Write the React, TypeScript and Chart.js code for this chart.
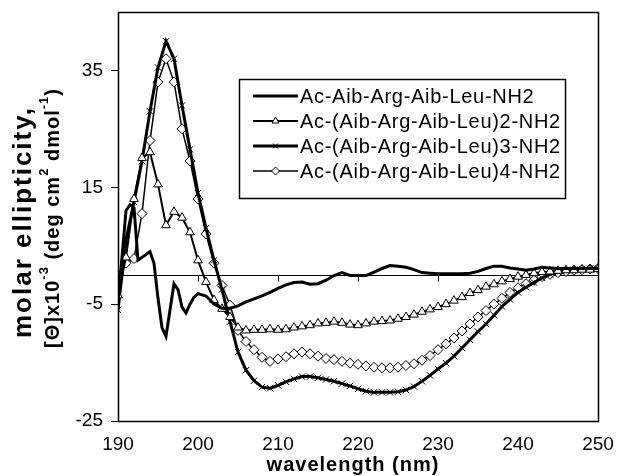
import React, { useEffect, useRef } from "react";
import { Chart, registerables } from "chart.js";
import { drawPoint } from "chart.js/helpers";

Chart.register(...registerables);

// ---------- data ----------
const seriesNames = [
  "Ac-Aib-Arg-Aib-Leu-NH2",
  "Ac-(Aib-Arg-Aib-Leu)2-NH2",
  "Ac-(Aib-Arg-Aib-Leu)3-NH2",
  "Ac-(Aib-Arg-Aib-Leu)4-NH2",
];

// wavelength grid (nm) for the monomer trace (finer at short wavelengths)
const wavelengthsFine = [
  190, 190.5, 191, 191.5, 192, 192.5, 193, 193.5, 194, 194.5, 195, 195.5, 196, 196.5,
  197, 197.5, 198, 198.5, 199, 199.5, 200, 201, 202, 203, 204, 205, 206, 207, 208, 209,
  210, 211, 212, 213, 214, 215, 216, 217, 218, 219, 220, 221, 222, 223, 224, 225, 226,
  227, 228, 229, 230, 231, 232, 233, 234, 235, 236, 237, 238, 239, 240, 241, 242, 243,
  244, 245, 246, 247, 248, 249, 250,
];

// wavelength grid (nm) for the marked traces
const wavelengths = [
  190, 191, 192, 193, 194, 195, 196, 197, 198, 199, 200, 201, 202, 203, 204, 205, 206,
  207, 208, 209, 210, 211, 212, 213, 214, 215, 216, 217, 218, 219, 220, 221, 222, 223,
  224, 225, 226, 227, 228, 229, 230, 231, 232, 233, 234, 235, 236, 237, 238, 239, 240,
  241, 242, 243, 244, 245, 246, 247, 248, 249, 250,
];

const monomer = [
  -4.5, 3, 11, 12, 11.5, 2.5, 3, 3.5, 4, 2, -4, -9, -10.5, -6,
  -1.5, -2.5, -5.5, -6.5, -5, -3.8, -3.2, -3.6, -5.0, -5.7, -5.7, -5.3, -4.6, -4.1, -3.6, -3.0,
  -2.3, -1.7, -1.3, -1.2, -1.6, -1.5, -0.9, -0.1, 0.4, -0.1, -0.1, -0.1, 0.5, 1.1, 1.6, 1.5, 1.3,
  0.9, 0.4, 0.3, 0.2, 0.2, 0.2, 0.2, 0.3, 0.6, 1.1, 1.5, 1.5, 1.2, 1.0, 0.8, 1.0, 1.3,
  1.2, 1.1, 1.1, 1.1, 1.1, 1.1, 1.1,
];

const dimer = [
  -3.5, 3, 13, 20, 21, 15.5, 8.5, 10.8, 9.8, 7.3, 2.5, -1.2, -4.3, -5.8, -7.2, -9.0, -9.5,
  -9.4, -9.4, -9.3, -9.4, -9.3, -9.0, -8.8, -8.6, -8.3, -8.2, -8.0, -8.2, -8.5, -8.6, -8.3, -8.0, -7.9,
  -7.8, -7.5, -7.2, -6.8, -6.3, -5.9, -5.5, -5.0, -4.4, -3.8, -3.1, -2.6, -2.0, -1.6, -1.1, -0.7, -0.3,
  0.0, 0.3, 0.5, 0.6, 0.7, 0.8, 0.8, 0.9, 0.9, 1.0,
];

const trimer = [
  -6, 6, 12.5, 19.5, 28, 35.5, 40, 37, 29, 21.5, 14, 8, 2.5, -2.5, -8, -13.2, -16.3,
  -18.1, -19.2, -19.4, -18.9, -18.3, -17.8, -17.4, -17.4, -17.6, -17.9, -18.2, -18.6, -19.0, -19.5, -19.9, -20.1, -20.1,
  -20.1, -20.0, -19.7, -19.1, -18.2, -17.2, -16.1, -15.1, -13.9, -12.5, -11.1, -9.7, -8.4, -6.9, -5.4, -4.2, -3.0,
  -2.1, -1.3, -0.5, 0.1, 0.5, 0.7, 0.9, 1.0, 1.1, 1.1,
];

const tetramer = [
  0, 2, 2.8, 10.5, 23, 33, 37, 33, 25, 19.5, 13, 7, 2, -1.8, -5.2, -9.5, -11.4,
  -12.8, -14.1, -14.8, -14.4, -14.0, -13.5, -13.2, -13.5, -13.9, -14.3, -14.5, -14.8, -15.1, -15.3, -15.6, -15.8, -15.9,
  -15.9, -15.8, -15.5, -15.2, -14.6, -13.8, -12.8, -11.8, -10.8, -9.6, -8.4, -7.2, -6.1, -5.0, -4.0, -3.0, -2.2,
  -1.5, -0.9, -0.3, 0.1, 0.4, 0.6, 0.8, 0.9, 1.0, 1.1,
];

const xTicks = [190, 200, 210, 220, 230, 240, 250];
const yTicks = [-25, -5, 15, 35];

const xTitle = "wavelength (nm)";
const yTitleLine1 = "molar ellipticity,";

// ---------- styles ----------
const FONT = "'Liberation Sans', Arial, sans-serif";

type Style = {
  pointStyle: any;
  radius: number;
  lineWidth: number;
  pointBorderWidth: number;
};
const styles: Style[] = [
  { pointStyle: false, radius: 0, lineWidth: 3, pointBorderWidth: 1 },
  { pointStyle: "triangle", radius: 5, lineWidth: 2, pointBorderWidth: 1 },
  { pointStyle: "crossRot", radius: 4.5, lineWidth: 3, pointBorderWidth: 1 },
  { pointStyle: "rectRot", radius: 5, lineWidth: 1.5, pointBorderWidth: 1 },
];

const toPoints = (xs: number[], ys: number[]) => ys.map((y, i) => ({ x: xs[i], y }));

const decorPlugin = {
  id: "decor",
  beforeDatasetsDraw(chart: any) {
    const { ctx, chartArea, scales } = chart;
    const y0 = Math.round(scales.y.getPixelForValue(0)) + 0.5;
    ctx.save();
    ctx.strokeStyle = "#000";
    ctx.lineWidth = 1;
    ctx.beginPath();
    ctx.moveTo(chartArea.left, y0);
    ctx.lineTo(chartArea.right, y0);
    // tick marks on the zero axis, pointing down
    xTicks.forEach((v) => {
      const px = Math.round(scales.x.getPixelForValue(v)) + 0.5;
      ctx.moveTo(px, y0);
      ctx.lineTo(px, y0 + 6);
    });
    ctx.stroke();
    ctx.restore();
  },
  afterDraw(chart: any) {
    const { ctx, chartArea } = chart;
    ctx.save();
    // plot border
    ctx.strokeStyle = "#000";
    ctx.lineWidth = 1.5;
    ctx.strokeRect(
      Math.round(chartArea.left) + 0.5,
      Math.round(chartArea.top) + 0.5,
      Math.round(chartArea.right - chartArea.left),
      Math.round(chartArea.bottom - chartArea.top)
    );

    // x title
    ctx.fillStyle = "#000";
    ctx.font = `bold 20px ${FONT}`;
    (ctx as any).letterSpacing = "1px";
    ctx.textAlign = "center";
    ctx.textBaseline = "middle";
    ctx.fillText(xTitle, 353, 465);

    // y title, first line
    ctx.save();
    ctx.translate(24, 222);
    ctx.rotate(-Math.PI / 2);
    ctx.font = `bold 26px ${FONT}`;
    (ctx as any).letterSpacing = "2px";
    ctx.textAlign = "center";
    ctx.fillText(yTitleLine1, 0, 0);
    ctx.restore();

    // y title, second line with superscripts
    ctx.save();
    ctx.translate(53, 218);
    ctx.rotate(-Math.PI / 2);
    (ctx as any).letterSpacing = "1px";
    const big = `bold 20px ${FONT}`;
    const small = `bold 13px ${FONT}`;
    const parts: [string, boolean][] = [
      ["[\u0398]x10", false],
      ["-3", true],
      [" (deg cm", false],
      ["2", true],
      [" dmol", false],
      ["-1", true],
      [")", false],
    ];
    let total = 0;
    const widths = parts.map(([t, sup]) => {
      ctx.font = sup ? small : big;
      const w = ctx.measureText(t).width;
      total += w;
      return w;
    });
    let cx = -total / 2;
    ctx.textAlign = "left";
    parts.forEach(([t, sup], i) => {
      ctx.font = sup ? small : big;
      ctx.fillText(t, cx, sup ? -9 : 0);
      cx += widths[i];
    });
    ctx.restore();

    // legend
    (ctx as any).letterSpacing = "0px";
    const bx = 239, by = 79, bw = 326, bh = 119;
    ctx.fillStyle = "#fff";
    ctx.fillRect(bx, by, bw, bh);
    ctx.strokeStyle = "#000";
    ctx.lineWidth = 1.5;
    ctx.strokeRect(bx + 0.5, by + 0.5, bw, bh);
    const rows = [96, 121, 146, 171];
    seriesNames.forEach((name, i) => {
      const y = rows[i];
      const st = styles[i];
      ctx.strokeStyle = "#000";
      ctx.lineWidth = st.lineWidth;
      ctx.beginPath();
      ctx.moveTo(253, y);
      ctx.lineTo(298, y);
      ctx.stroke();
      if (st.pointStyle) {
        ctx.fillStyle = "#fff";
        ctx.strokeStyle = "#000";
        ctx.lineWidth = 1;
        drawPoint(ctx, { pointStyle: st.pointStyle, radius: st.radius - 1, borderWidth: 1, rotation: 0 } as any, 275.5, y);
      }
      ctx.fillStyle = "#000";
      ctx.font = `20px ${FONT}`;
      (ctx as any).letterSpacing = "0.7px";
      ctx.textAlign = "left";
      ctx.textBaseline = "middle";
      ctx.fillText(name, 300, y + 1);
    });
    ctx.restore();
  },
};

export default function App() {
  const ref = useRef<HTMLCanvasElement | null>(null);

  useEffect(() => {
    if (!ref.current) return;
    const datasets = [
      toPoints(wavelengthsFine, monomer),
      toPoints(wavelengths, dimer),
      toPoints(wavelengths, trimer),
      toPoints(wavelengths, tetramer),
    ].map((data, i) => ({
      label: seriesNames[i],
      data,
      borderColor: "#000",
      backgroundColor: "#fff",
      borderWidth: styles[i].lineWidth,
      pointStyle: styles[i].pointStyle,
      pointRadius: styles[i].radius,
      pointBorderColor: "#000",
      pointBackgroundColor: "#fff",
      pointBorderWidth: styles[i].pointBorderWidth,
      tension: 0,
      fill: false,
    }));

    const chart = new Chart(ref.current, {
      type: "line",
      data: { datasets: datasets as any },
      options: {
        animation: false,
        responsive: false,
        devicePixelRatio: 1,
        layout: { padding: { top: 12, right: 19, left: 0, bottom: 0 } },
        plugins: { legend: { display: false }, tooltip: { enabled: false } },
        scales: {
          x: {
            type: "linear",
            min: 190,
            max: 250,
            afterBuildTicks: (s: any) => {
              s.ticks = xTicks.map((v) => ({ value: v }));
            },
            afterFit: (s: any) => {
              s.height = 55;
              s.paddingLeft = 0;
              s.paddingRight = 0;
            },
            grid: { display: false },
            border: { display: false },
            ticks: {
              color: "#000",
              font: { family: FONT, size: 19 },
              padding: 4,
              maxRotation: 0,
              autoSkip: false,
            },
          },
          y: {
            type: "linear",
            min: -25,
            max: 45,
            afterBuildTicks: (s: any) => {
              s.ticks = yTicks.map((v) => ({ value: v }));
            },
            afterFit: (s: any) => {
              s.width = 118;
              s.paddingTop = 0;
              s.paddingBottom = 0;
            },
            grid: { drawOnChartArea: false, drawTicks: true, tickLength: 7, color: "#000", lineWidth: 1 },
            border: { display: false },
            ticks: {
              color: "#000",
              font: { family: FONT, size: 19 },
              padding: 8,
            },
          },
        },
      },
      plugins: [decorPlugin],
    });
    return () => chart.destroy();
  }, []);

  return (
    <div style={{ position: "fixed", left: 0, top: 0, width: 617, height: 476, background: "#fff" }}>
      <canvas ref={ref} width={617} height={476} style={{ display: "block" }} />
    </div>
  );
}
